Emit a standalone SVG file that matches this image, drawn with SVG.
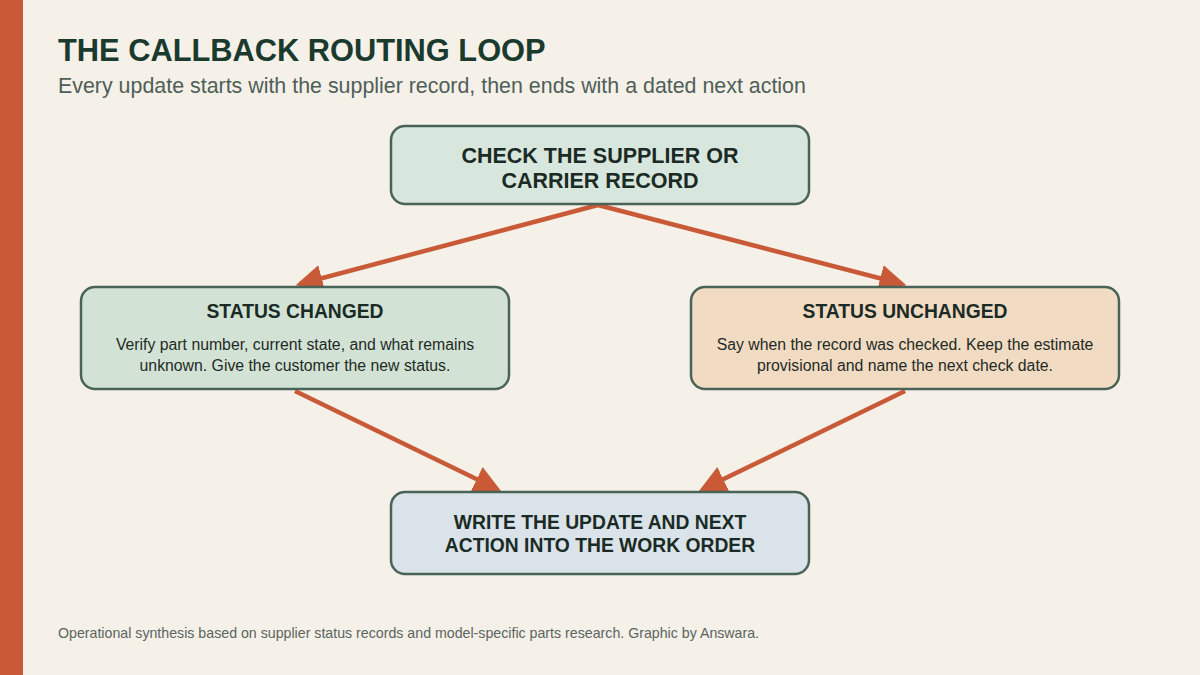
<svg xmlns="http://www.w3.org/2000/svg" width="1200" height="675" viewBox="0 0 1200 675">
<defs>
<style>
.box{stroke:#4a6358;stroke-width:2.5}
.h{font-family:"Liberation Sans",Arial,sans-serif;font-weight:bold;fill:#1b2a24;text-anchor:middle}
.b{font-family:"Liberation Sans",Arial,sans-serif;font-size:15.8px;fill:#1f2a25;text-anchor:middle}
.c{stroke:#c95a37;stroke-width:4.5;fill:none}
</style>
<marker id="ah" markerWidth="6" markerHeight="6" refX="5" refY="3" orient="auto" markerUnits="strokeWidth"><path d="M0,0L6,3L0,6z" fill="#c95a37"/></marker>
</defs>
<rect width="1200" height="675" fill="#f5f0e8"/>
<rect width="23" height="675" fill="#c95a37"/>
<text x="58" y="61" font-family="Liberation Sans,Arial,sans-serif" font-weight="bold" font-size="30.8" fill="#1b3a2e">THE CALLBACK ROUTING LOOP</text>
<text x="58" y="93" font-family="Liberation Sans,Arial,sans-serif" font-size="21.4" fill="#4f5f58">Every update starts with the supplier record, then ends with a dated next action</text>
<g id="connectors">
<line class="c" x1="598" y1="205" x2="300" y2="284" marker-end="url(#ah)"/>
<line class="c" x1="598" y1="205" x2="902" y2="284" marker-end="url(#ah)"/>
<line class="c" x1="295" y1="391" x2="497" y2="489" marker-end="url(#ah)"/>
<line class="c" x1="905" y1="391" x2="703" y2="489" marker-end="url(#ah)"/>
</g>
<g id="check"><rect class="box" x="391" y="126" width="418" height="78" rx="14" fill="#d8e7dd"/>
<text class="h" font-size="21.5" x="600" y="163">CHECK THE SUPPLIER OR</text><text class="h" font-size="21.5" x="600" y="188">CARRIER RECORD</text></g>
<g id="changed"><rect class="box" x="81" y="287" width="428" height="102" rx="14" fill="#d2e3d6"/>
<text class="h" font-size="19.3" x="295" y="318">STATUS CHANGED</text>
<text class="b" x="295" y="350">Verify part number, current state, and what remains</text><text class="b" x="295" y="371">unknown. Give the customer the new status.</text></g>
<g id="unchanged"><rect class="box" x="691" y="287" width="428" height="102" rx="14" fill="#f1dcc3"/>
<text class="h" font-size="19.3" x="905" y="318">STATUS UNCHANGED</text>
<text class="b" x="905" y="350">Say when the record was checked. Keep the estimate</text><text class="b" x="905" y="371">provisional and name the next check date.</text></g>
<g id="write"><rect class="box" x="391" y="492" width="418" height="82" rx="14" fill="#d9e3e9"/>
<text class="h" font-size="19.3" x="600" y="529">WRITE THE UPDATE AND NEXT</text><text class="h" font-size="19.3" x="600" y="552">ACTION INTO THE WORK ORDER</text></g>
<text x="58" y="638" font-family="Liberation Sans,Arial,sans-serif" font-size="14.2" fill="#5b655f">Operational synthesis based on supplier status records and model-specific parts research. Graphic by Answara.</text>
</svg>
